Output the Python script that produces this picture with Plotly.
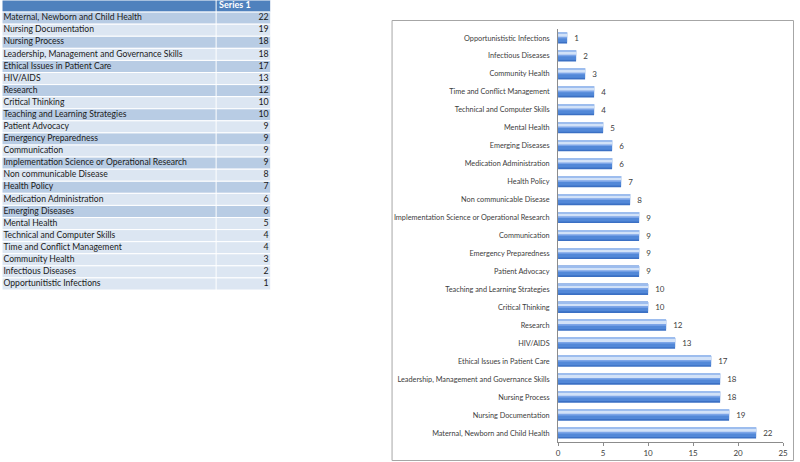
import plotly.graph_objects as go

W, H = 800, 462

topics = [
    "Maternal, Newborn and Child Health",
    "Nursing Documentation",
    "Nursing Process",
    "Leadership, Management and Governance Skills",
    "Ethical Issues in Patient Care",
    "HIV/AIDS",
    "Research",
    "Critical Thinking",
    "Teaching and Learning Strategies",
    "Patient Advocacy",
    "Emergency Preparedness",
    "Communication",
    "Implementation Science or Operational Research",
    "Non communicable Disease",
    "Health Policy",
    "Medication Administration",
    "Emerging Diseases",
    "Mental Health",
    "Technical and Computer Skills",
    "Time and Conflict Management",
    "Community Health",
    "Infectious Diseases",
    "Opportunitistic Infections",
]
series1 = [22, 19, 18, 18, 17, 13, 12, 10, 10, 9, 9, 9, 9, 8, 7, 6, 6, 5, 4, 4, 3, 2, 1]
series_name = "Series 1"
x_ticks = [0, 5, 10, 15, 20, 25]

# chart category labels (as shown on the chart axis)
chart_labels = list(topics)
chart_labels[-1] = "Opportunististic Infections"

FONT = "Lato"
n = len(topics)

fig = go.Figure()

# ---------- table drawn on its own axes (x3 / y3) ----------
TW = 271.0      # table width in table-axis units (px-like)
COL = 216.0     # column divider
dark, light = "#B8CCE4", "#DCE6F2"
fills = [dark if (i % 2 == 0 and i <= 16) else light for i in range(n)]
rows = list(range(1, n + 1))

fig.add_trace(go.Bar(
    x=[TW], y=[0], orientation="h", width=1, base=0,
    marker=dict(color="#4F81BD", line=dict(color="white", width=1)),
    xaxis="x3", yaxis="y3", hoverinfo="skip", showlegend=False,
))
fig.add_trace(go.Bar(
    x=[TW] * n, y=rows, orientation="h", width=1, base=0,
    marker=dict(color=fills, line=dict(color="white", width=1)),
    xaxis="x3", yaxis="y3", hoverinfo="skip", showlegend=False,
))
fig.add_trace(go.Scatter(
    x=[COL + 3], y=[0], mode="text", text=["<b>" + series_name + "</b>"],
    textposition="middle right",
    textfont=dict(family=FONT, size=9, color="white"),
    xaxis="x3", yaxis="y3", hoverinfo="skip", showlegend=False, cliponaxis=False,
))
fig.add_trace(go.Scatter(
    x=[1.5] * n, y=rows, mode="text", text=topics,
    textposition="middle right",
    textfont=dict(family=FONT, size=8.6, color="#1a1a1a"),
    xaxis="x3", yaxis="y3", hoverinfo="skip", showlegend=False, cliponaxis=False,
))
fig.add_trace(go.Scatter(
    x=[TW - 2] * n, y=rows, mode="text", text=[str(v) for v in series1],
    textposition="middle left",
    textfont=dict(family=FONT, size=8.8, color="#1a1a1a"),
    xaxis="x3", yaxis="y3", hoverinfo="skip", showlegend=False, cliponaxis=False,
))

# ---------- bar chart (layered to emulate gradient) ----------
layers = [
    (-0.31, 0.62, "#3B70C4"),
    (-0.22, 0.53, "#5288D8"),
    (-0.02, 0.33, "#7CA5E8"),
    (0.07, 0.17, "#D2E2F8"),
    (0.24, 0.07, "#9DBDEE"),
]
for k, (off, wd, col) in enumerate(layers):
    fig.add_trace(go.Bar(
        x=series1, y=chart_labels, orientation="h",
        offset=off, width=wd,
        marker=dict(color=col, line=dict(width=0)),
        text=[f"  {v}" for v in series1] if k == 0 else None,
        textposition="outside" if k == 0 else "none",
        textfont=dict(family=FONT, size=8, color="#404040"),
        cliponaxis=False,
        showlegend=False,
        hoverinfo="x+y",
    ))

fig.update_layout(
    width=W, height=H,
    margin=dict(l=0, r=0, t=0, b=0),
    paper_bgcolor="white",
    plot_bgcolor="rgba(0,0,0,0)",
    barmode="overlay",
    showlegend=False,
    font=dict(family=FONT, color="#404040"),
    xaxis=dict(
        domain=[561 / W, 788 / W],
        range=[0, 25],
        tickvals=x_ticks,
        showgrid=False, zeroline=False,
        showline=True, linecolor="#8C8C8C", linewidth=1,
        ticks="outside", ticklen=3, tickcolor="#8C8C8C",
        tickfont=dict(family=FONT, size=8, color="#404040"),
    ),
    yaxis=dict(
        domain=[(H - 442) / H, (H - 29) / H],
        categoryorder="array", categoryarray=chart_labels,
        range=[-0.5, n - 0.5],
        showgrid=False, zeroline=False,
        showline=True, linecolor="#8C8C8C", linewidth=1,
        ticks="", ticklabelstandoff=6,
        tickfont=dict(family=FONT, size=7.3, color="#404040"),
    ),
    xaxis3=dict(
        domain=[0, TW / W], range=[0, TW], visible=False, fixedrange=True,
    ),
    yaxis3=dict(
        domain=[(H - 290) / H, 1], range=[n + 0.5, -0.5], visible=False,
        fixedrange=True,
    ),
    shapes=[
        dict(
            type="rect", xref="paper", yref="paper",
            x0=393.5 / W, x1=798.5 / W, y0=(H - 460.5) / H, y1=(H - 20.5) / H,
            line=dict(color="#A6A6A6", width=1), fillcolor="rgba(0,0,0,0)",
            layer="below",
        ),
        dict(
            type="line", xref="x3", yref="y3",
            x0=COL, x1=COL, y0=-0.5, y1=n + 0.5,
            line=dict(color="white", width=1), layer="above",
        ),
    ],
)

fig.write_html(
    "out.html",
    config={"displayModeBar": False},
    post_script="document.body.style.margin='0';document.body.style.overflow='hidden';",
)
